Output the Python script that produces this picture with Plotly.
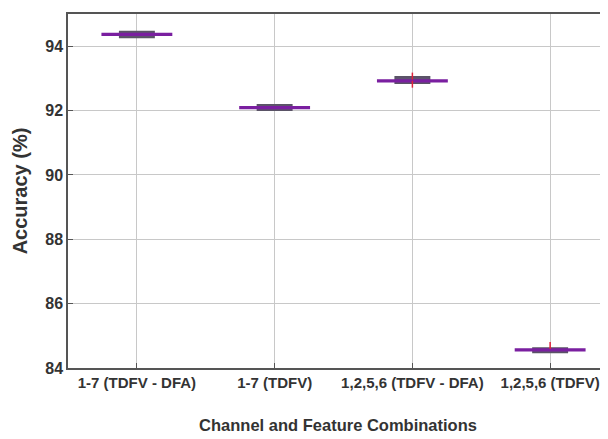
import plotly.graph_objects as go

categories = ["1-7 (TDFV - DFA)", "1-7 (TDFV)", "1,2,5,6 (TDFV - DFA)", "1,2,5,6 (TDFV)"]
positions = [1, 2, 3, 4]
medians = [94.37, 92.09, 92.92, 84.56]
q1 = [94.35, 92.07, 92.90, 84.54]
q3 = [94.39, 92.11, 92.94, 84.58]
lower_whisker = [94.27, 92.01, 92.85, 84.48]
upper_whisker = [94.46, 92.18, 93.05, 84.62]
outlier_x = [3, 3, 4]
outlier_y = [93.07, 92.82, 84.70]

FONT = "Liberation Sans, Arial, sans-serif"

fig = go.Figure()

# whisker range (caps), narrower
fig.add_trace(go.Box(
    x=positions, q1=lower_whisker, median=medians, q3=upper_whisker,
    lowerfence=lower_whisker, upperfence=upper_whisker,
    width=0.25, line=dict(color="#5a5366", width=1.5), fillcolor="#5f5470",
    showlegend=False, hoverinfo="skip",
))
# box + median, wider
fig.add_trace(go.Box(
    x=positions, q1=q1, median=medians, q3=q3,
    lowerfence=q1, upperfence=q3,
    width=0.5, line=dict(color="#7a1fa0", width=2), fillcolor="#6a1e9a",
    showlegend=False, hoverinfo="skip",
))
fig.add_trace(go.Scatter(
    x=outlier_x, y=outlier_y, mode="markers",
    marker=dict(symbol="line-ns", size=5, line=dict(color="#e0203a", width=1.5)),
    showlegend=False, hoverinfo="skip",
))

# page body has an 8px default margin, so the figure is sized to compensate
fig.update_layout(
    width=600, height=431,
    margin=dict(l=60, r=0, t=6, b=71),
    paper_bgcolor="white", plot_bgcolor="white",
    boxmode="overlay",
    font=dict(family=FONT, size=15, color="#333333"),
)
fig.update_xaxes(
    range=[0.5, 4.42], tickvals=positions, ticktext=categories, tickangle=0,
    automargin=False,
    showgrid=True, gridcolor="#c8c8c8", gridwidth=1,
    showline=True, linecolor="#555555", linewidth=1.5, mirror=True,
    ticks="inside", ticklen=5, tickcolor="#555555",
    tickfont=dict(family=FONT, size=15, color="#333333", weight="bold"),
    title=dict(text="<b>Channel and Feature Combinations</b>", font=dict(family=FONT, size=16.5, color="#333333"), standoff=30),
    zeroline=False,
)
fig.update_yaxes(
    range=[84, 95], tickvals=[84, 86, 88, 90, 92, 94],
    automargin=False,
    showgrid=True, gridcolor="#c8c8c8", gridwidth=1,
    showline=True, linecolor="#555555", linewidth=1.5, mirror=False,
    ticks="inside", ticklen=5, tickcolor="#555555",
    tickfont=dict(family=FONT, size=16, color="#333333", weight="bold"),
    title=dict(text="<b>Accuracy (%)</b>", font=dict(family=FONT, size=20, color="#333333"), standoff=12),
    zeroline=False,
)

fig.write_html("out.html")
